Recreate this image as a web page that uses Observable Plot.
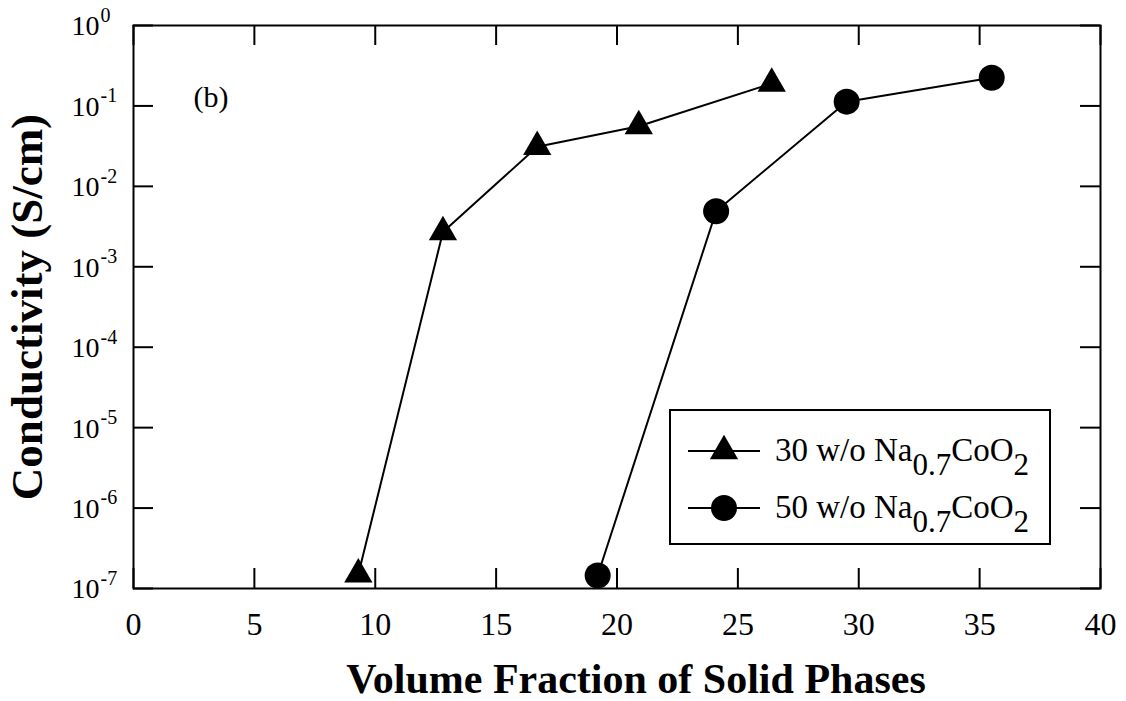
<!DOCTYPE html>
<html>
<head>
<meta charset="utf-8">
<script src="https://cdn.jsdelivr.net/npm/d3@7"></script>
<script src="https://cdn.jsdelivr.net/npm/@observablehq/plot@0.6"></script>
<style>
  html, body { margin: 0; padding: 0; background: #fff; }
  #chart svg { display: block; }
</style>
</head>
<body>
<div id="chart"></div>
<script>
// Conductivity vs. volume fraction of solid phases, two Na0.7CoO2 loadings
const series30Fraction = [9.3, 12.8, 16.7, 20.9, 26.4];
const series30Conductivity = [1.5e-7, 2.7e-3, 3.1e-2, 5.6e-2, 0.19];
const series50Fraction = [19.2, 24.1, 29.5, 35.5];
const series50Conductivity = [1.45e-7, 4.9e-3, 0.113, 0.224];

const seriesNames = ["30 w/o Na", "50 w/o Na"];
const xTicks = [0, 5, 10, 15, 20, 25, 30, 35, 40];
const yTicks = [1e0, 1e-1, 1e-2, 1e-3, 1e-4, 1e-5, 1e-6, 1e-7];
const xLabel = "Volume Fraction of Solid Phases";
const yLabel = "Conductivity (S/cm)";
const panelLabel = "(b)";

const s30 = series30Fraction.map((x, i) => ({x, y: series30Conductivity[i]}));
const s50 = series50Fraction.map((x, i) => ({x, y: series50Conductivity[i]}));

const W = 1126, H = 701;
const mL = 133, mR = 26, mT = 25, mB = 113;
const plotW = W - mL - mR, plotH = H - mT - mB;
const tickLen = 20;
const font = "Liberation Serif, Times New Roman, serif";

const chart = Plot.plot({
  width: W,
  height: H,
  marginLeft: mL,
  marginRight: mR,
  marginTop: mT,
  marginBottom: mB,
  style: {fontFamily: font, background: "#fff", color: "#000"},
  x: {domain: [0, 40], axis: null},
  y: {type: "log", domain: [1e-7, 1], axis: null},
  marks: [
    Plot.frame({stroke: "#000", strokeWidth: 2}),
    // inward ticks on all four sides
    Plot.tickX(xTicks, {x: d => d, stroke: "#000", strokeWidth: 2, insetTop: plotH - tickLen}),
    Plot.tickX(xTicks, {x: d => d, stroke: "#000", strokeWidth: 2, insetBottom: plotH - tickLen}),
    Plot.tickY(yTicks, {y: d => d, stroke: "#000", strokeWidth: 2, insetRight: plotW - tickLen}),
    Plot.tickY(yTicks, {y: d => d, stroke: "#000", strokeWidth: 2, insetLeft: plotW - tickLen}),
    // tick labels
    Plot.text(xTicks, {x: d => d, text: d => String(d), frameAnchor: "bottom", dy: 36,
      textAnchor: "middle", lineAnchor: "middle", fontSize: 32, fill: "#000"}),
    Plot.text(yTicks, {y: d => d, text: () => "10", frameAnchor: "left", dx: -62, dy: 1,
      textAnchor: "start", lineAnchor: "middle", fontSize: 28, fill: "#000"}),
    Plot.text(yTicks, {y: d => d, text: d => String(Math.round(Math.log10(d))).replace("\u2212", "-"),
      frameAnchor: "left", dx: -33, dy: -10, textAnchor: "start", lineAnchor: "middle",
      fontSize: 20, fill: "#000"}),
    // axis titles
    Plot.text([xLabel], {text: d => d, frameAnchor: "bottom", textAnchor: "middle", dx: 19, dy: 104,
      lineAnchor: "bottom", fontSize: 42, fontWeight: "bold", fill: "#000"}),
    Plot.text([yLabel], {text: d => d, frameAnchor: "left", textAnchor: "middle", dx: -106, rotate: -90,
      lineAnchor: "middle", fontSize: 45, fontWeight: "bold", fill: "#000"}),
    Plot.text([panelLabel], {text: d => d, frameAnchor: "top-left", dx: 60, dy: 72,
      textAnchor: "start", lineAnchor: "middle", fontSize: 30, fill: "#000"}),
    // data
    Plot.line(s30, {x: "x", y: "y", stroke: "#000", strokeWidth: 2}),
    Plot.line(s50, {x: "x", y: "y", stroke: "#000", strokeWidth: 2}),
    Plot.dot(s30, {x: "x", y: "y", symbol: "triangle", r: 10.5, fill: "#000", stroke: "none"}),
    Plot.dot(s50, {x: "x", y: "y", symbol: "circle", r: 13, fill: "#000", stroke: "none"})
  ]
});

// legend box drawn into the plot's svg
const svg = d3.select(chart);
const lg = svg.append("g").attr("class", "legend").attr("text-anchor", "start");
lg.append("rect").attr("x", 670).attr("y", 410).attr("width", 380).attr("height", 134)
  .attr("fill", "#fff").attr("stroke", "#000").attr("stroke-width", 2);
const rows = [
  {name: seriesNames[0], cy: 451, symbol: d3.symbolTriangle, size: Math.PI * 10.5 * 10.5},
  {name: seriesNames[1], cy: 508, symbol: d3.symbolCircle, size: Math.PI * 13 * 13}
];
rows.forEach(r => {
  lg.append("line").attr("x1", 688).attr("x2", 760).attr("y1", r.cy).attr("y2", r.cy)
    .attr("stroke", "#000").attr("stroke-width", 2);
  lg.append("path").attr("d", d3.symbol(r.symbol, r.size)())
    .attr("transform", `translate(724,${r.cy})`).attr("fill", "#000");
  const t = lg.append("text").attr("x", 775).attr("y", r.cy + 10)
    .attr("font-family", font).attr("font-size", 33).attr("fill", "#000");
  t.append("tspan").text(r.name);
  t.append("tspan").attr("dy", 14).attr("font-size", 31).text("0.7");
  t.append("tspan").attr("dy", -14).text("CoO");
  t.append("tspan").attr("dy", 14).attr("font-size", 31).text("2");
});

document.getElementById("chart").appendChild(chart);
</script>
</body>
</html>
